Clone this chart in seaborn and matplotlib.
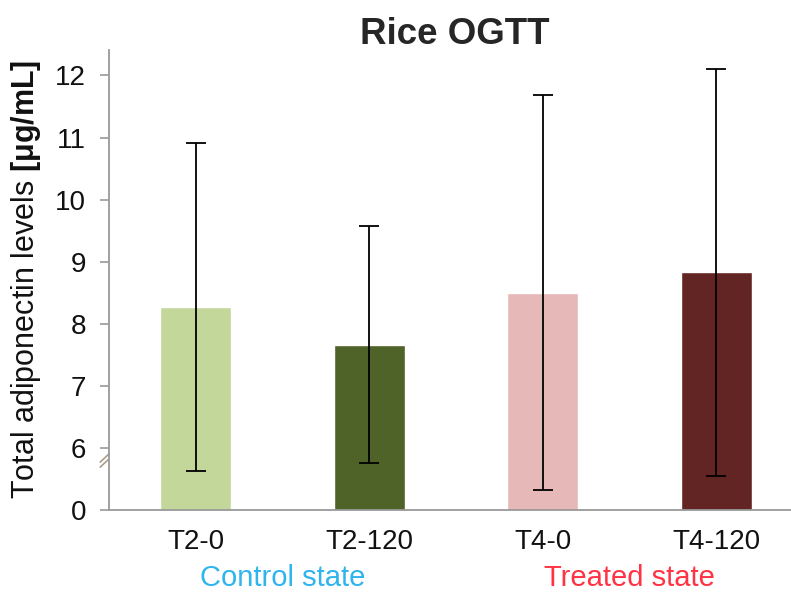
import matplotlib
matplotlib.use("Agg")
import matplotlib.pyplot as plt
import seaborn as sns
import pandas as pd

categories = ["T2-0", "T2-120", "T4-0", "T4-120"]
means = [8.27, 7.66, 8.50, 8.83]
sds = [2.64, 1.91, 3.18, 3.28]
colors = ["#C4D79B", "#4F6228", "#E6B9B8", "#632523"]
yticks = [5, 6, 7, 8, 9, 10, 11, 12]
ytick_labels = ["0", "6", "7", "8", "9", "10", "11", "12"]
groups = ["Control state", "Treated state"]
group_colors = ["#2EB4EE", "#FF3344"]

sns.set_theme(style="white")
plt.rcParams["font.family"] = ["Liberation Sans", "DejaVu Sans"]
plt.rcParams["mathtext.fontset"] = "custom"
plt.rcParams["mathtext.rm"] = "Liberation Sans"
plt.rcParams["mathtext.bf"] = "Liberation Sans:bold"

df = pd.DataFrame({"cat": categories, "val": means})

fig = plt.figure(figsize=(7.91, 5.93), dpi=100)
L, R, B, T = 109, 791, 510, 50
ax = fig.add_axes([L / 791, (593 - B) / 593, (R - L) / 791, (B - T) / 593])

sns.barplot(data=df, x="cat", y="val", hue="cat", palette=colors, width=0.41,
            legend=False, ax=ax, errorbar=None, saturation=1)
ax.errorbar(range(len(categories)), means, yerr=sds, fmt="none", ecolor="black",
            elinewidth=1.3, capsize=7, capthick=1.3, zorder=5)

ax.set_xlim(-0.5, 3.43)
ax.set_ylim(5, 12.41)
ax.set_yticks(yticks)
ax.set_yticklabels(ytick_labels, fontsize=20, color="#111111")
ax.set_xticks(range(len(categories)))
ax.set_xticklabels(categories, fontsize=20, color="#111111")
ax.set_xticks([0.5, 1.5, 2.5], minor=True)
ax.tick_params(axis="x", which="major", length=0, pad=14)
ax.tick_params(axis="x", which="minor", length=7, width=1.2, color="#9a9a9a", direction="out")
ax.tick_params(axis="y", which="major", length=6.5, width=1.2, color="#9a9a9a", direction="out", left=True, pad=10)

for s in ["top", "right"]:
    ax.spines[s].set_visible(False)
for s in ["left", "bottom"]:
    ax.spines[s].set_color("#9a9a9a")
    ax.spines[s].set_linewidth(1.3)

ax.set_xlabel("")
ax.set_ylabel(r"Total adiponectin levels $\mathbf{[μg/mL]}$", fontsize=22, color="#111111")
ax.yaxis.set_label_coords(-0.097, 0.501)
ax.set_title("Rice OGTT", fontsize=26.5, fontweight="bold", pad=4, x=0.507)

# axis break marks
for dy in (0.0, 0.011):
    ax.plot([-0.013, 0.0], [0.102 + dy - 0.009, 0.102 + dy + 0.009],
            transform=ax.transAxes, color="#a89584", lw=1.1, clip_on=False)

# group labels
ax.text(0.5, -0.165, groups[0], transform=ax.get_xaxis_transform(), ha="center",
        va="baseline", fontsize=21, color=group_colors[0])
ax.text(2.5, -0.165, groups[1], transform=ax.get_xaxis_transform(), ha="center",
        va="baseline", fontsize=21, color=group_colors[1])

fig.savefig("out.png", dpi=100)
